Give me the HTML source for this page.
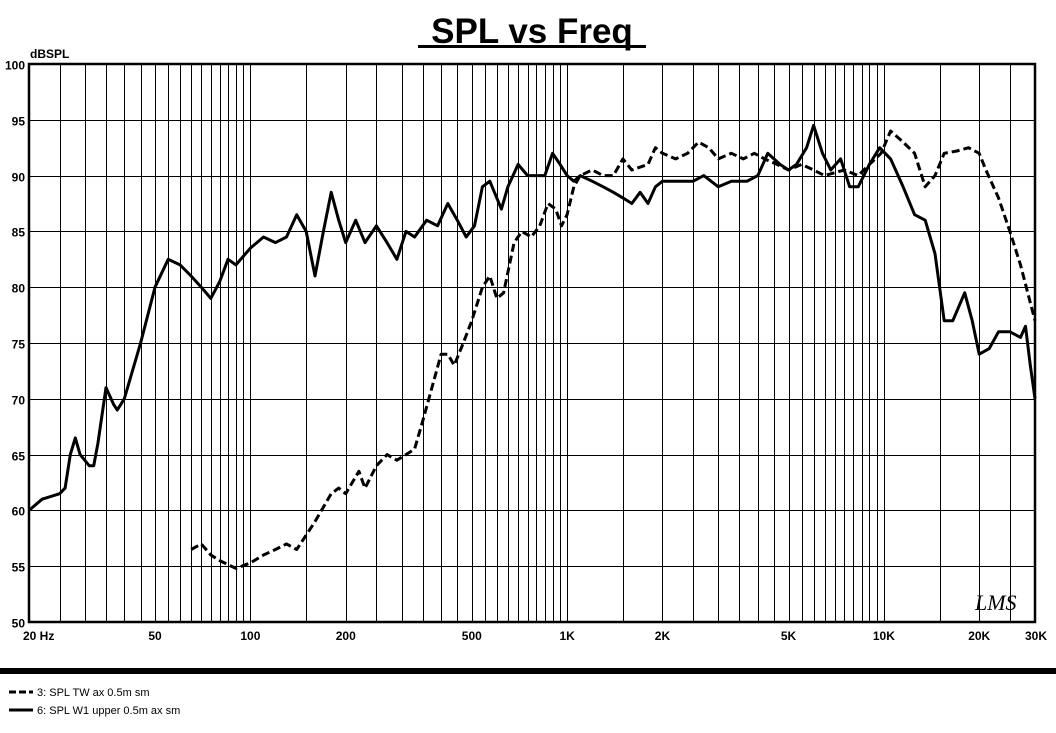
<!DOCTYPE html>
<html><head><meta charset="utf-8"><style>
body{margin:0;background:#fff;width:1056px;height:728px;overflow:hidden;font-family:"Liberation Sans",Arial,sans-serif}
</style></head><body>
<svg id="chart" width="1056" height="728" xmlns="http://www.w3.org/2000/svg">
<text x="532" y="43" text-anchor="middle" font-size="35" font-weight="bold" font-family="Liberation Sans, sans-serif">SPL vs Freq</text>
<rect x="418" y="45" width="228" height="3" fill="#000"/>
<text x="30" y="58" font-size="12" font-weight="bold">dBSPL</text>
<g id="grid"></g><g id="series"></g><g id="labels"></g>
<rect x="0" y="668" width="1056" height="6" fill="#000"/>
<line x1="9" y1="692" x2="33" y2="692" stroke="#000" stroke-width="3" stroke-dasharray="7,3"/>
<text x="37" y="696" font-size="11">3: SPL TW ax 0.5m sm</text>
<line x1="9" y1="710" x2="33" y2="710" stroke="#000" stroke-width="3"/>
<text x="37" y="714" font-size="11">6: SPL W1 upper 0.5m ax sm</text>
<text x="975" y="610" font-size="22" font-style="italic" font-family="Liberation Serif, serif">LMS</text>
</svg>
<script>
const xTickLabels=["20  Hz","50","100","200","500","1K","2K","5K","10K","20K","30K"];
const xTickValues=[20,50,100,200,500,1000,2000,5000,10000,20000,30000];
const yTicks=[50,55,60,65,70,75,80,85,90,95,100];
const w1Freq=[20,22,25,26,27,28,29,31,32,33,35,37,38,40,45,50,55,60,65,70,75,80,85,90,100,110,120,130,140,150,160,170,180,190,200,215,230,250,270,290,310,330,360,390,420,450,480,510,540,570,620,650,700,750,800,850,900,950,1000,1050,1100,1200,1300,1400,1500,1600,1700,1800,1900,2000,2300,2500,2700,3000,3300,3700,4000,4300,4700,5000,5300,5700,6000,6400,6800,7300,7800,8300,9000,9700,10500,11500,12500,13500,14500,15500,16500,18000,19000,20000,21500,23000,25000,27000,28000,29000,30000];
const w1Spl=[60,61,61.5,62,65,66.5,65,64,64,66,71,69.5,69,70,75,80,82.5,82,81,80,79,80.5,82.5,82,83.5,84.5,84,84.5,86.5,85,81,85,88.5,86,84,86,84,85.5,84,82.5,85,84.5,86,85.5,87.5,86,84.5,85.5,89,89.5,87,89,91,90,90,90,92,91,90,89.5,90,89.5,89,88.5,88,87.5,88.5,87.5,89,89.5,89.5,89.5,90,89,89.5,89.5,90,92,91,90.5,91,92.5,94.5,92,90.5,91.5,89,89,91,92.5,91.5,89,86.5,86,83,77,77,79.5,77,74,74.5,76,76,75.5,76.5,73,70];
const twFreq=[65,70,75,80,90,100,110,120,130,140,160,180,190,200,220,230,250,270,290,310,330,350,400,420,440,470,500,540,570,600,630,680,720,770,820,870,920,960,1000,1050,1100,1200,1300,1400,1500,1600,1800,1900,2000,2200,2400,2600,2800,3000,3300,3600,3900,4200,4600,5000,5500,6000,6500,7500,8300,9000,9800,10500,11500,12500,13500,14500,15500,17000,18500,20000,21000,23000,25000,27000,30000];
const twSpl=[56.5,57,56,55.5,54.8,55.3,56,56.5,57,56.5,59,61.5,62,61.5,63.5,62,64,65,64.5,65,65.5,68,74,74,73,75,77,80,81,79,79.5,84,85,84.5,85.5,87.5,87,85.5,86.5,89,90,90.5,90,90,91.5,90.5,91,92.5,92,91.5,92,93,92.5,91.5,92,91.5,92,91.5,91,90.5,91,90.5,90,90.5,90,91,92,94,93,92,89,90,92,92.2,92.5,92,90.5,88,85,82,77];
const L=29,R=1035,T=64,B=622;
const xs=f=>L+(Math.log10(f/20))/Math.log10(1500)*(R-L);
const ys=v=>B-(v-50)/50*(B-T);
const NS="http://www.w3.org/2000/svg";
function mk(tag,parent,attrs){const e=document.createElementNS(NS,tag);for(const k in attrs)e.setAttribute(k,attrs[k]);parent.appendChild(e);return e;}
const grid=document.getElementById('grid'),ser=document.getElementById('series'),lab=document.getElementById('labels');
const vf=[];for(let d=10;d<=10000;d*=10){for(let m=1;m<10;m+=0.5){const f=d*m;if(f>20&&f<30000)vf.push(f);}}vf.push(10000*10);
vf.forEach(f=>{if(f>=30000)return;const x=Math.round(xs(f))+0.5;const l=mk('line',grid,{x1:x,y1:T,x2:x,y2:B,stroke:'#000','stroke-width':1});

});
yTicks.forEach(v=>{const y=Math.round(ys(v))+0.5;const l=mk('line',grid,{x1:L,y1:y,x2:R,y2:y,stroke:'#000','stroke-width':1});


const t=mk('text',lab,{x:L-4,y:y+5,'text-anchor':'end','font-size':12,'font-weight':'bold'});t.textContent=v;

});
const fr=mk('rect',grid,{x:L,y:T,width:R-L,height:B-T,fill:'none',stroke:'#000','stroke-width':2.5});


xTickValues.forEach((f,i)=>{let x=xs(f);let anchor='middle';if(i===0){x=L-6;anchor='start';}if(i===xTickValues.length-1){x=R+1;}
const t=mk('text',lab,{x:x,y:640,'text-anchor':anchor,'font-size':12,'font-weight':'bold','xml:space':'preserve'});t.textContent=xTickLabels[i];

});
function path(fa,va){return fa.map((f,i)=>(i?'L':'M')+xs(f).toFixed(1)+','+ys(va[i]).toFixed(1)).join('');}
const p1=mk('path',ser,{d:path(twFreq,twSpl),fill:'none',stroke:'#000','stroke-width':3,'stroke-dasharray':'8,4','stroke-linejoin':'round'});


const p2=mk('path',ser,{d:path(w1Freq,w1Spl),fill:'none',stroke:'#000','stroke-width':3,'stroke-linejoin':'round'});


</script>
</body></html>
